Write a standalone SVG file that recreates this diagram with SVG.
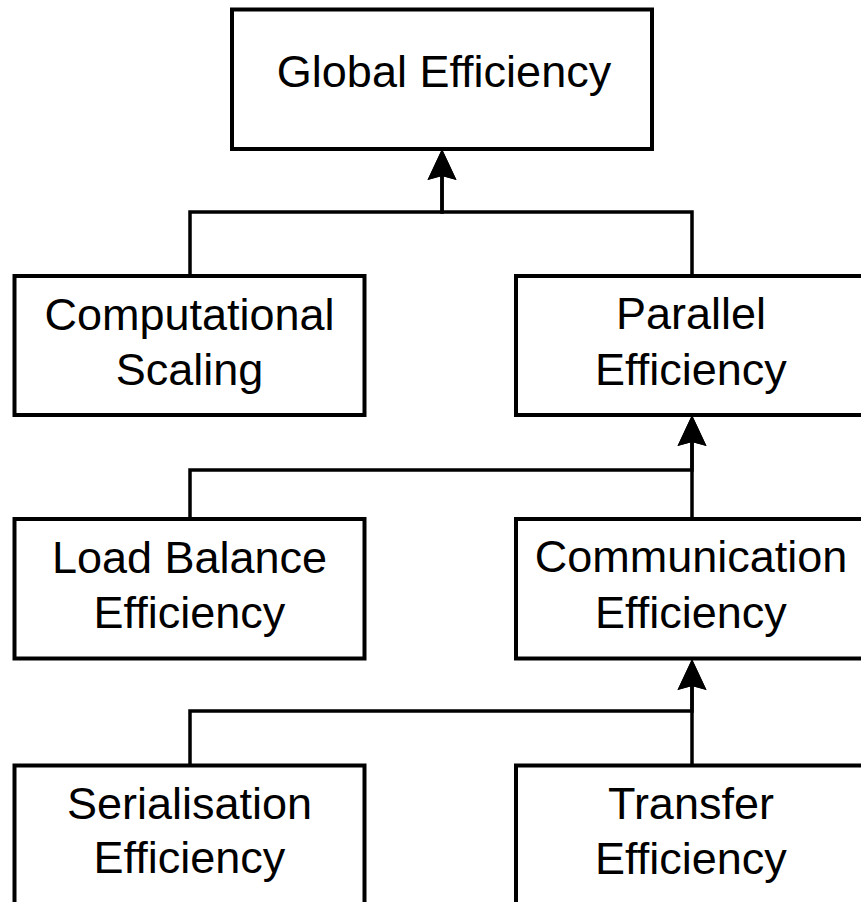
<svg xmlns="http://www.w3.org/2000/svg" width="861" height="902" viewBox="0 0 861 902">
  <style>
    .box { fill: #ffffff; stroke: #000000; stroke-width: 4; }
    .lbl { font-family: "Liberation Sans", Arial, sans-serif; font-size: 45px; fill: #000000; text-anchor: middle; }
    .edge { fill: none; stroke: #000000; stroke-width: 3.5; }
  </style>
  <defs>
    <marker id="arrow" markerUnits="userSpaceOnUse" viewBox="0 -16 32 32" markerWidth="32" markerHeight="32" refX="4" refY="0" orient="auto">
      <path d="M31,0 L0,-14.5 L4,0 L0,14.5 Z" fill="#000000"/>
    </marker>
  </defs>
  <rect width="861" height="902" fill="#ffffff"/>

  <g id="connectors">
    <path class="edge" d="M190,276 V212 H442 V176" marker-end="url(#arrow)"/>
    <path class="edge" d="M692,276 V212 H442 V176" marker-end="url(#arrow)"/>
    <path class="edge" d="M190,519 V470 H692 V442" marker-end="url(#arrow)"/>
    <path class="edge" d="M692,519 V442" marker-end="url(#arrow)"/>
    <path class="edge" d="M190,765 V711 H692 V686" marker-end="url(#arrow)"/>
    <path class="edge" d="M692,765 V686" marker-end="url(#arrow)"/>
  </g>

  <g id="global-efficiency">
    <rect class="box" x="232" y="9.5" width="420" height="139.5"/>
    <text class="lbl" x="444" y="87">Global Efficiency</text>
  </g>
  <g id="computational-scaling">
    <rect class="box" x="14.5" y="276" width="350" height="139"/>
    <text class="lbl" x="189.5" y="330">Computational</text>
    <text class="lbl" x="189.5" y="385">Scaling</text>
  </g>
  <g id="parallel-efficiency">
    <rect class="box" x="516" y="276" width="350" height="139"/>
    <text class="lbl" x="691" y="329">Parallel</text>
    <text class="lbl" x="691" y="385">Efficiency</text>
  </g>
  <g id="load-balance-efficiency">
    <rect class="box" x="14.5" y="519" width="350" height="139.5"/>
    <text class="lbl" x="189.5" y="573">Load Balance</text>
    <text class="lbl" x="189.5" y="628">Efficiency</text>
  </g>
  <g id="communication-efficiency">
    <rect class="box" x="516" y="519" width="350" height="139.5"/>
    <text class="lbl" x="691" y="572">Communication</text>
    <text class="lbl" x="691" y="628">Efficiency</text>
  </g>
  <g id="serialisation-efficiency">
    <rect class="box" x="14.5" y="765.5" width="350" height="139.5"/>
    <text class="lbl" x="189.5" y="819">Serialisation</text>
    <text class="lbl" x="189.5" y="873">Efficiency</text>
  </g>
  <g id="transfer-efficiency">
    <rect class="box" x="516" y="765.5" width="350" height="139.5"/>
    <text class="lbl" x="691" y="819">Transfer</text>
    <text class="lbl" x="691" y="874">Efficiency</text>
  </g>
</svg>
